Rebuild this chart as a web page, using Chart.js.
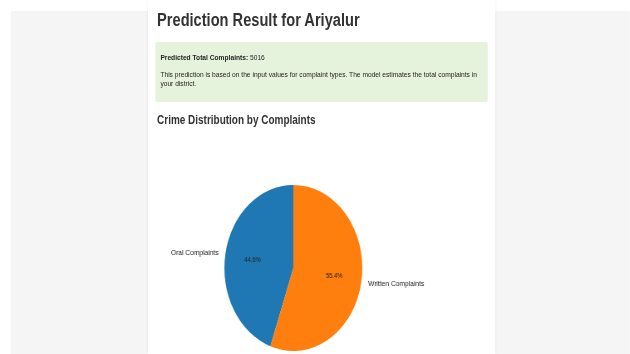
<!DOCTYPE html>
<html>
<head>
<meta charset="utf-8">
<script src="https://cdn.jsdelivr.net/npm/chart.js@4/dist/chart.umd.min.js"></script>
<style>
  html, body { margin:0; padding:0; width:630px; height:354px; overflow:hidden; background:#ffffff; }
  #stage { position:absolute; left:0; top:0; width:758px; height:354px; transform:scaleX(0.831); transform-origin:0 0; font-family:"Liberation Sans", Arial, sans-serif; color:#333; }
  #bg { position:absolute; left:13px; top:11px; right:0; bottom:0; background:#f5f5f5; }
  #panel { position:absolute; left:178px; top:0; width:418px; height:354px; background:#ffffff; box-shadow:0 0 4px rgba(0,0,0,0.10); }
  .t { position:absolute; white-space:nowrap; }
  #title { left:189px; top:11.5px; font-size:17.6px; line-height:17.6px; font-weight:bold; color:#333; }
  #box { position:absolute; left:186.5px; top:42px; width:400.7px; height:60px; background:#e6f3dc; border-radius:2px; }
  #l1 { left:193px; top:53px; font-size:8px; line-height:9px; color:#222; }
  #l2 { left:193px; top:71px; width:392px; white-space:normal; font-size:8px; line-height:8.5px; color:#222; }
  #sub { left:189px; top:114.3px; font-size:12px; line-height:12px; font-weight:bold; color:#333; }
  #wrap { position:absolute; left:132.6px; top:168px; width:440px; height:200px; }
  #pie { display:block; }
</style>
</head>
<body>
<div id="stage">
  <div id="bg"></div>
  <div id="panel"></div>
  <div id="title" class="t">Prediction Result for Ariyalur</div>
  <div id="box"></div>
  <div id="l1" class="t"><b>Predicted Total Complaints:</b> <span id="total"></span></div>
  <div id="l2" class="t">This prediction is based on the input values for complaint types. The model estimates the total complaints in your district.</div>
  <div id="sub" class="t">Crime Distribution by Complaints</div>
  <div id="wrap"><canvas id="pie" width="440" height="200"></canvas></div>
</div>
<script>
const categories = ["Oral Complaints", "Written Complaints"];
const complaintCounts = [2237, 2779];
const sliceColors = ["#1f77b4", "#ff7f0e"];

const total = complaintCounts.reduce((a, b) => a + b, 0);
document.getElementById('total').textContent = total;

const pieLabels = {
  id: 'pieLabels',
  afterDatasetsDraw(chart) {
    const ctx = chart.ctx;
    const meta = chart.getDatasetMeta(0);
    const data = chart.data.datasets[0].data;
    const sum = data.reduce((a, b) => a + b, 0);
    ctx.save();
    meta.data.forEach((arc, i) => {
      const p = arc.getProps(['x', 'y', 'startAngle', 'endAngle', 'outerRadius'], true);
      const mid = (p.startAngle + p.endAngle) / 2;
      const c = Math.cos(mid), s = Math.sin(mid);
      ctx.fillStyle = '#222';
      ctx.font = '7px "Liberation Sans", Arial, sans-serif';
      ctx.textBaseline = 'middle';
      ctx.textAlign = 'center';
      ctx.fillText((data[i] / sum * 100).toFixed(1) + '%', p.x + c * 0.6 * p.outerRadius, p.y + s * 0.6 * p.outerRadius);
      ctx.font = '8px "Liberation Sans", Arial, sans-serif';
      ctx.textAlign = c >= 0 ? 'left' : 'right';
      ctx.fillText(chart.data.labels[i], p.x + c * 1.1 * p.outerRadius, p.y + s * 1.1 * p.outerRadius);
    });
    ctx.restore();
  }
};

new Chart(document.getElementById('pie'), {
  type: 'pie',
  data: {
    labels: categories,
    datasets: [{
      data: complaintCounts,
      backgroundColor: sliceColors,
      borderWidth: 0,
      radius: 83
    }]
  },
  options: {
    responsive: false,
    animation: false,
    devicePixelRatio: 1,
    rotation: -360 * complaintCounts[0] / total,
    layout: { padding: 0 },
    plugins: { legend: { display: false }, tooltip: { enabled: false } }
  },
  plugins: [pieLabels]
});
</script>
</body>
</html>
